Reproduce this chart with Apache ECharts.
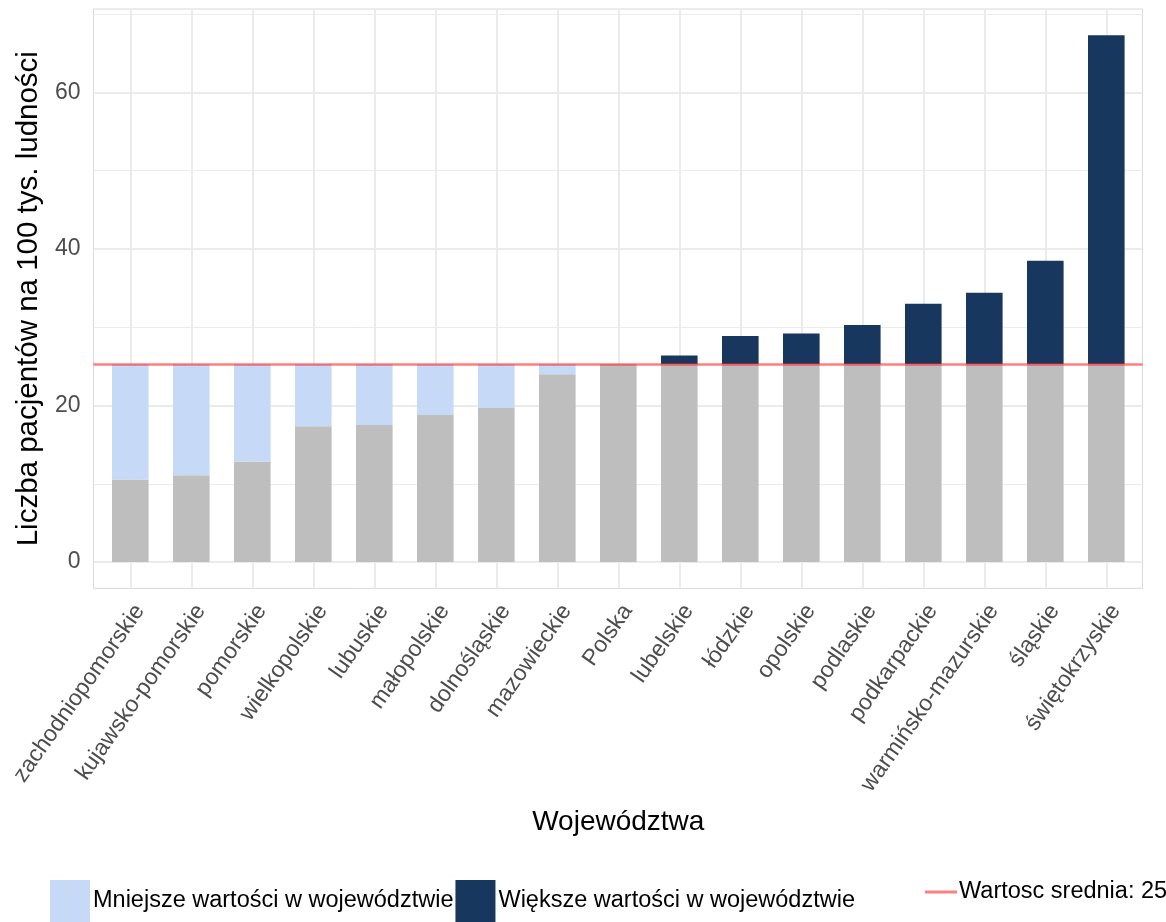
<!DOCTYPE html>
<html>
<head>
<meta charset="utf-8">
<script src="https://cdn.jsdelivr.net/npm/echarts@6/dist/echarts.min.js"></script>
<style>
  html, body { margin: 0; padding: 0; background: #ffffff; }
  #chart { width: 1166px; height: 922px; }
</style>
</head>
<body>
<div id="chart"></div>
<script>
// ---- data ----
const categories = ['zachodniopomorskie', 'kujawsko-pomorskie', 'pomorskie', 'wielkopolskie', 'lubuskie',
  'małopolskie', 'dolnośląskie', 'mazowieckie', 'Polska', 'lubelskie', 'łódzkie', 'opolskie',
  'podlaskie', 'podkarpackie', 'warmińsko-mazurskie', 'śląskie', 'świętokrzyskie'];
const values = [10.55, 11.1, 12.85, 17.35, 17.5, 18.8, 19.7, 24.0, 25.3, 26.4, 28.9, 29.2, 30.3, 33.0, 34.4, 38.5, 67.3];
const meanValue = 25.3;
const majorTicks = [0, 20, 40, 60];
const minorTicks = [10, 30, 50, 70];
const yLimits = [-3.365, 70.665];

const seriesNames = {
  below: 'Mniejsze wartości w województwie',
  above: 'Większe wartości w województwie',
  mean: 'Wartosc srednia: 25.3'
};

// ---- derived stacks ----
const baseSeries = values.map(v => Math.min(v, meanValue));
const belowSeries = values.map(v => v < meanValue ? +(meanValue - v).toFixed(3) : '-');
const aboveSeries = values.map(v => v > meanValue ? +(v - meanValue).toFixed(3) : '-');

const FONT = 'Liberation Sans, Arial, sans-serif';
const GRID_TOP = 9, GRID_BOTTOM = 333.6;
const GRID_COLOR = '#ebebeb';

const chart = echarts.init(document.getElementById('chart'), null, { renderer: 'canvas' });

const hGridData = majorTicks.map(v => ({ yAxis: v, lineStyle: { width: 2, color: GRID_COLOR, type: 'solid' } }))
  .concat(minorTicks.map(v => ({ yAxis: v, lineStyle: { width: 1, color: GRID_COLOR, type: 'solid' } })));
const vGridData = categories.map(c => ({ xAxis: c }));

const option = {
  animation: false,
  backgroundColor: '#ffffff',
  textStyle: { fontFamily: FONT },
  grid: [
    { left: 93.5, right: 23.5, top: GRID_TOP, bottom: GRID_BOTTOM, show: true, borderColor: '#d9d9d9', borderWidth: 1, backgroundColor: 'transparent', containLabel: false },
    { left: 99.8, right: 29.2, top: GRID_TOP, bottom: GRID_BOTTOM, containLabel: false }
  ],
  xAxis: [
    { type: 'value', gridIndex: 0, min: 0, max: 1, show: false },
    {
      type: 'category', gridIndex: 1, data: categories, boundaryGap: true,
      axisLine: { show: false }, axisTick: { show: false },
      splitLine: { show: false },
      axisLabel: { interval: 0, rotate: 55, fontSize: 23, color: '#4d4d4d', margin: 12, verticalAlign: 'top', fontFamily: FONT },
      name: 'Województwa', nameLocation: 'middle', nameGap: 220,
      nameTextStyle: { fontSize: 28, color: '#000000', fontFamily: FONT }
    }
  ],
  yAxis: [
    {
      type: 'value', gridIndex: 0, min: yLimits[0], max: yLimits[1], splitNumber: 4,
      axisLine: { show: false }, axisTick: { show: false }, splitLine: { show: false },
      axisLabel: {
        fontSize: 23, color: '#4d4d4d', margin: 13, fontFamily: FONT,
        formatter: v => majorTicks.some(t => Math.abs(t - v) < 1e-6) ? String(Math.round(v)) : ''
      },
      name: 'Liczba pacjentów na 100 tys. ludności', nameLocation: 'middle', nameGap: 47,
      nameTextStyle: { fontSize: 29.5, color: '#000000', fontFamily: FONT }
    },
    { type: 'value', gridIndex: 1, min: yLimits[0], max: yLimits[1], show: false, splitLine: { show: false } }
  ],
  legend: [
    {
      data: [seriesNames.below, seriesNames.above],
      left: 50, top: 880, orient: 'horizontal', padding: 0,
      itemWidth: 40, itemHeight: 42, itemGap: 2, icon: 'rect',
      textStyle: { fontSize: 23.5, color: '#000000', fontFamily: FONT, padding: [0, 0, 0, -2] },
      selectedMode: false
    },
    {
      data: [seriesNames.mean],
      left: 925, top: 880, padding: 0,
      itemWidth: 32, itemHeight: 3, icon: 'rect',
      textStyle: { fontSize: 23.5, color: '#000000', fontFamily: FONT, padding: [0, 0, 0, -3] },
      selectedMode: false
    }
  ],
  series: [
    {
      name: '_hgrid', type: 'line', xAxisIndex: 0, yAxisIndex: 0, data: [], z: 0, silent: true,
      markLine: { symbol: 'none', silent: true, z: 0, label: { show: false }, data: hGridData, animation: false }
    },
    {
      name: 'base', type: 'bar', xAxisIndex: 1, yAxisIndex: 1, stack: 'v', data: baseSeries,
      barWidth: '60%', itemStyle: { color: '#bebebe' }, z: 2,
      markLine: {
        symbol: 'none', silent: true, z: 0, label: { show: false }, animation: false,
        lineStyle: { width: 2, color: GRID_COLOR, type: 'solid' },
        data: vGridData
      }
    },
    {
      name: seriesNames.below, type: 'bar', xAxisIndex: 1, yAxisIndex: 1, stack: 'v', data: belowSeries,
      barWidth: '60%', itemStyle: { color: '#c6daf7' }, z: 2
    },
    {
      name: seriesNames.above, type: 'bar', xAxisIndex: 1, yAxisIndex: 1, stack: 'v', data: aboveSeries,
      barWidth: '60%', itemStyle: { color: '#17375e' }, z: 2
    },
    {
      name: seriesNames.mean, type: 'line', xAxisIndex: 0, yAxisIndex: 0, data: [], z: 10, silent: true,
      color: 'rgba(255,40,40,0.6)', lineStyle: { color: 'rgba(255,40,40,0.6)' },
      itemStyle: { color: 'rgba(255,40,40,0.6)' },
      markLine: {
        symbol: 'none', silent: true, z: 10, label: { show: false }, animation: false,
        lineStyle: { color: 'rgba(255,40,40,0.6)', width: 2.5, type: 'solid' },
        data: [{ yAxis: meanValue }]
      }
    }
  ]
};

chart.setOption(option);
</script>
</body>
</html>
